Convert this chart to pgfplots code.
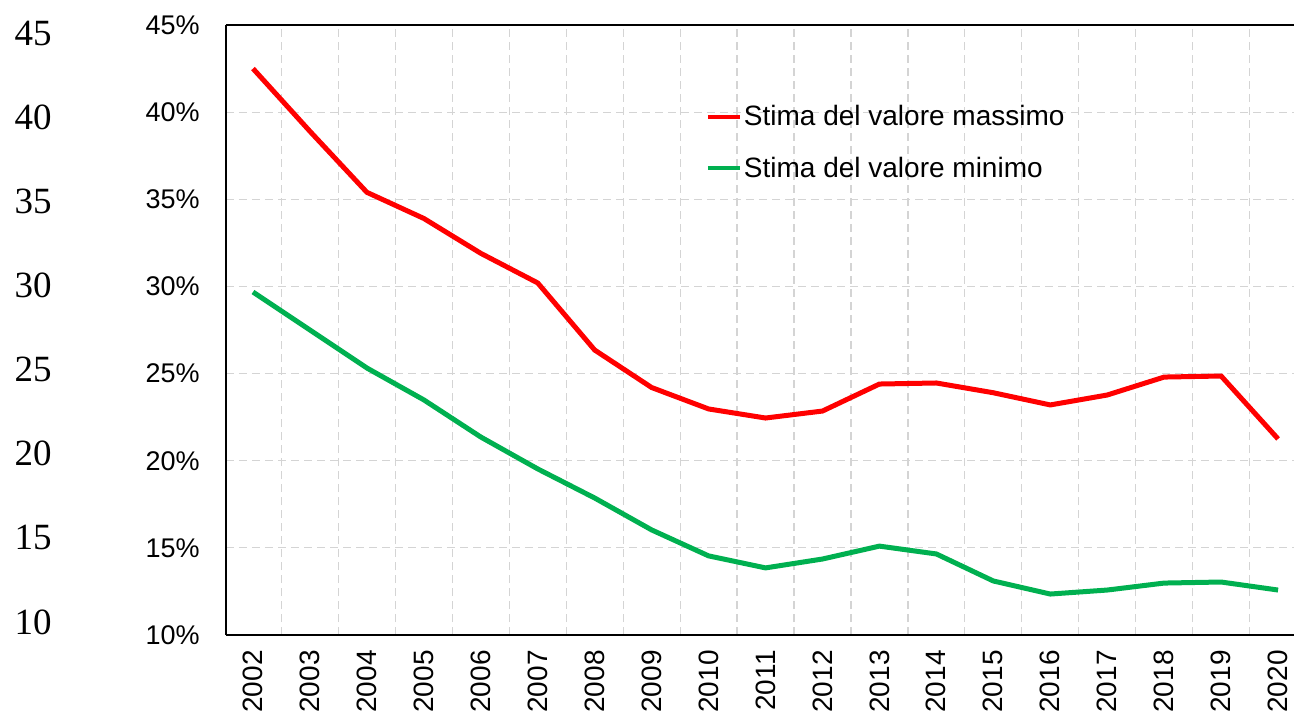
\documentclass[border=0pt]{standalone}
\usepackage{fontspec}
\setmainfont{Liberation Sans}
\newfontfamily\serifnum{Liberation Serif}
\usepackage{pgfplots}
\pgfplotsset{compat=1.18}
\definecolor{rosso}{HTML}{FF0000}
\definecolor{verde}{HTML}{00B050}
\definecolor{griglia}{HTML}{D4D4D4}

\begin{document}
\begin{tikzpicture}
\useasboundingbox (-113pt,-41.5pt) rectangle (534pt,317.5pt);

% scala senza percentuale, a sinistra
\begin{axis}[at={(0,0)}, anchor=south west,
    scale only axis, width=534pt, height=305pt,
    xmin=0, xmax=1, ymin=9.23, ymax=45.48,
    hide x axis, axis y line*=left, y axis line style={draw=none},
    ytick={10,15,...,45}, major tick length=0pt,
    /pgf/number format/assume math mode=true,
    yticklabel shift=87pt,
    yticklabel style={font=\serifnum\fontsize{18.5}{20}\selectfont, anchor=east, inner sep=0pt}]
\addplot[draw=none] coordinates {(0,10)};
\end{axis}

\begin{axis}[at={(0,0)}, anchor=south west,
    scale only axis, width=534pt, height=305pt,
    xmin=2001.526, xmax=2020.28, ymin=10, ymax=45,
    axis x line*=box, axis y line*=left,
    axis line style={-, black, line width=0.6pt},
    xtick={2002,...,2020},
    minor xtick={2002.5,2003.5,2004.5,2005.5,2006.5,2007.5,2008.5,2009.5,2010.5,
        2011.5,2012.5,2013.5,2014.5,2015.5,2016.5,2017.5,2018.5,2019.5},
    xmajorgrids=false, xminorgrids=true, ymajorgrids=true,
    grid style={griglia, dash pattern=on 4pt off 2.5pt, line width=0.6pt},
    minor grid style={griglia, dash pattern=on 4pt off 2.5pt, line width=0.6pt},
    ytick={10,15,...,45},
    major tick length=0pt, minor tick length=0pt,
    /pgf/number format/assume math mode=true,
    x tick label style={/pgf/number format/1000 sep={}},
    xticklabel shift=7.5pt,
    xticklabel style={rotate=90, anchor=east, inner sep=0pt, font=\fontsize{14}{16}\selectfont},
    yticklabel={\pgfmathprintnumber{\tick}\%},
    yticklabel shift=13pt,
    yticklabel style={anchor=east, inner sep=0pt, font=\fontsize{13.5}{16}\selectfont},
    legend style={at={(0.449,0.872)}, anchor=north west, draw=none, fill=none,
        font=\fontsize{14}{16}\selectfont, row sep=12pt, inner sep=0pt,
        nodes={inner sep=1pt}},
    legend cell align=left,
    legend image code/.code={\draw[line width=2pt] (0pt,0pt) -- (16pt,0pt);},
]

% Stima del valore massimo
\addplot[rosso, line width=2.5pt] coordinates {
    (2002, 42.5)
    (2003, 38.9)
    (2004, 35.4)
    (2005, 33.9)
    (2006, 31.9)
    (2007, 30.2)
    (2008, 26.35)
    (2009, 24.2)
    (2010, 22.97)
    (2011, 22.45)
    (2012, 22.85)
    (2013, 24.4)
    (2014, 24.46)
    (2015, 23.9)
    (2016, 23.2)
    (2017, 23.77)
    (2018, 24.8)
    (2019, 24.86)
    (2020, 21.25)
};
\addlegendentry{Stima del valore massimo}

% Stima del valore minimo
\addplot[verde, line width=2.5pt] coordinates {
    (2002, 29.68)
    (2003, 27.5)
    (2004, 25.32)
    (2005, 23.49)
    (2006, 21.36)
    (2007, 19.53)
    (2008, 17.86)
    (2009, 16.03)
    (2010, 14.54)
    (2011, 13.85)
    (2012, 14.36)
    (2013, 15.1)
    (2014, 14.65)
    (2015, 13.1)
    (2016, 12.35)
    (2017, 12.58)
    (2018, 12.98)
    (2019, 13.04)
    (2020, 12.58)
};
\addlegendentry{Stima del valore minimo}

\end{axis}
\end{tikzpicture}
\end{document}
